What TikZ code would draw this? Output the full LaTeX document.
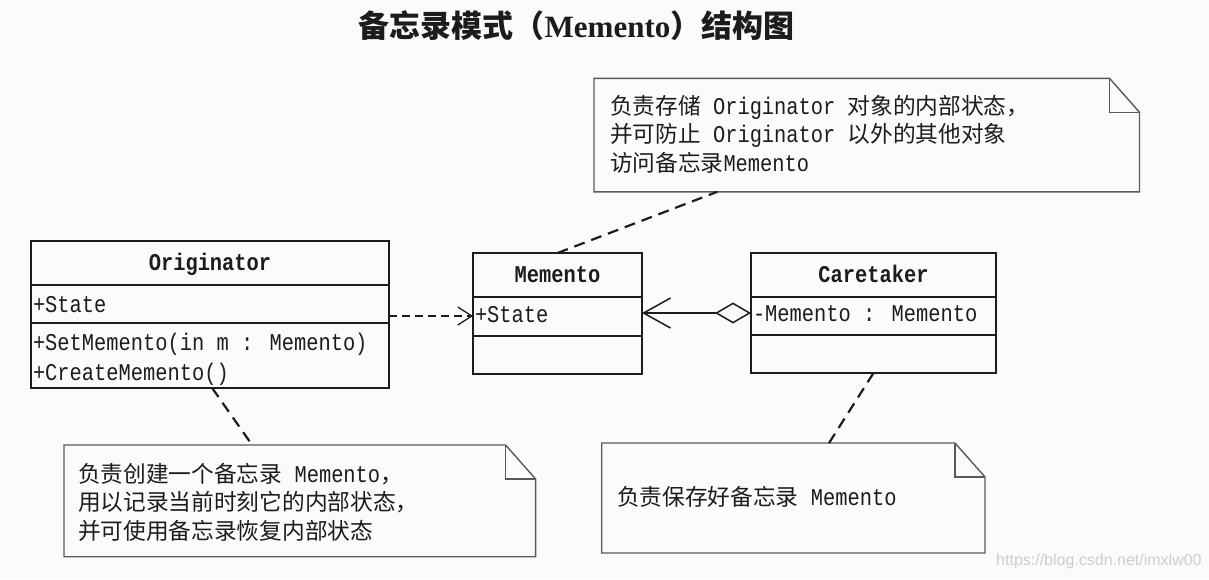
\documentclass[tikz,border=0pt]{standalone}
\usepackage{fontspec}
\setmainfont{Liberation Serif}
\newfontfamily\cjk{Noto Sans CJK SC}
\newfontfamily\mono[FakeStretch=0.85,Scale=1.057]{Liberation Mono}
\newfontfamily\wmfont{Liberation Sans}
\usetikzlibrary{arrows.meta,calc}
\newcommand\M[1]{{\mono #1}}
\definecolor{ink}{HTML}{1C1C1C}
\definecolor{noteline}{HTML}{5A5A5A}
\definecolor{bg}{HTML}{FBFBFB}
\definecolor{wmgray}{HTML}{CDCDCD}
\begin{document}
\begin{tikzpicture}[x=1pt,y=-1pt,
  cls/.style={draw=ink, line width=1.8pt, inner sep=0pt, outer sep=0pt, anchor=north west},
  sep/.style={draw=ink, line width=1.6pt},
  ctext/.style={inner sep=0pt, outer sep=0pt, text=ink, text height=18pt, text depth=2.3pt,
    font=\fontsize{22.7}{26}\selectfont\mono},
  cname/.style={ctext, font=\fontsize{22.7}{26}\selectfont\mono\bfseries},
  ntext/.style={inner sep=0pt, outer sep=0pt, anchor=west, text=ink, text height=18pt, text depth=2.3pt,
    font=\fontsize{22.7}{26}\selectfont\cjk},
  notebox/.style={draw=none, inner sep=0pt, outer sep=0pt, anchor=north west},
  notel/.style={draw=noteline, line width=1.4pt, line join=miter},
  dep/.style={draw=ink, line width=1.3pt, dash pattern=on 8pt off 5pt,
    -{Straight Barb[length=14pt,width=18pt,line width=1.3pt]}},
  assoc/.style={draw=ink, line width=1.3pt,
    {Straight Barb[length=27pt,width=30pt,line width=1.5pt]}-{Diamond[open,length=36pt,width=21pt,line width=1.5pt]}},
  ncon/.style={draw=ink, line width=2.2pt, dash pattern=on 11pt off 7pt}
]
\fill[bg] (0,0) rectangle (1209,579);
\useasboundingbox (0,0) rectangle (1209,579);

% title
\node[inner sep=0pt, text=ink, font=\fontsize{31}{36}\selectfont\bfseries] (title) at (576.5,26)
  {{\cjk 备忘录模式（}Memento{\cjk ）结构图}};

% Originator
\node[cls, minimum width=358pt, minimum height=147pt] (orig) at (31,241) {};
\draw[sep] (31,285) -- (389,285);
\draw[sep] (31,323) -- (389,323);
\node[cname] (origname) at (210,263) {Originator};
\node[ctext, anchor=west] (origattr) at (33,305) {+State};
\node[ctext, anchor=west] (origop1) at (33,343) {+SetMemento(in m : Memento)};
\node[ctext, anchor=west] (origop2) at (33,373) {+CreateMemento()};

% Memento
\node[cls, minimum width=169pt, minimum height=121pt] (mem) at (473,253) {};
\draw[sep] (473,297) -- (642,297);
\draw[sep] (473,336) -- (642,336);
\node[cname] (memname) at (557.5,275) {Memento};
\node[ctext, anchor=west] (memattr) at (475,315) {+State};

% Caretaker
\node[cls, minimum width=245pt, minimum height=120pt] (care) at (751,253) {};
\draw[sep] (751,297) -- (996,297);
\draw[sep] (751,335) -- (996,335);
\node[cname] (carename) at (873.5,275) {Caretaker};
\node[ctext, anchor=west] (careattr) at (753,314) {-Memento : Memento};

% connectors between classes
\coordinate (dy) at (0,316);
\coordinate (ay) at (0,313);
\draw[dep] (orig.east |- dy) -- (mem.west |- dy);
\draw[assoc] (mem.east |- ay) -- (care.west |- ay);

% notes
\node[notebox, minimum width=545.5pt, minimum height=113.5pt] (n1) at (594,78.3) {};
\node[notebox, minimum width=471.6pt, minimum height=111.7pt] (n2) at (64,445) {};
\node[notebox, minimum width=383.3pt, minimum height=110pt] (n3) at (601.7,443) {};
\foreach \n in {n1,n2,n3}{
  \draw[notel] (\n.north west) -- ($(\n.north east)+(-30,0)$) -- ($(\n.north east)+(0,34)$)
     -- (\n.south east) -- (\n.south west) -- cycle;
  \draw[notel] ($(\n.north east)+(-30,0)$) -- ($(\n.north east)+(-30,34)$) -- ($(\n.north east)+(0,34)$);
}

\node[ntext] (n1a) at (610,106.7) {负责存储\M{~Originator~}对象的内部状态，};
\node[ntext] (n1b) at (610,135) {并可防止\M{~Originator~}以外的其他对象};
\node[ntext] (n1c) at (610,164) {访问备忘录\M{Memento}};

\node[ntext] (n2a) at (78,475) {负责创建一个备忘录\M{~Memento}，};
\node[ntext] (n2b) at (78,503) {用以记录当前时刻它的内部状态，};
\node[ntext] (n2c) at (78,532) {并可使用备忘录恢复内部状态};

\node[ntext] (n3a) at (617,498) {负责保存好备忘录\M{~Memento}};

% note connectors
\draw[ncon] (mem.north) -- ($(n1.south west)!0.226!(n1.south east)$);
\draw[ncon] ($(orig.south west)!0.506!(orig.south east)$) -- ($(n2.north west)!0.399!(n2.north east)$);
\draw[ncon] (care.south) -- ($(n3.north west)!0.593!(n3.north east)$);

% watermark
\node[inner sep=0pt, anchor=west, text=wmgray, font=\fontsize{16}{18}\selectfont\wmfont] (wm) at (996,561)
  {https://blog.csdn.net/imxlw00};
\end{tikzpicture}
\end{document}
